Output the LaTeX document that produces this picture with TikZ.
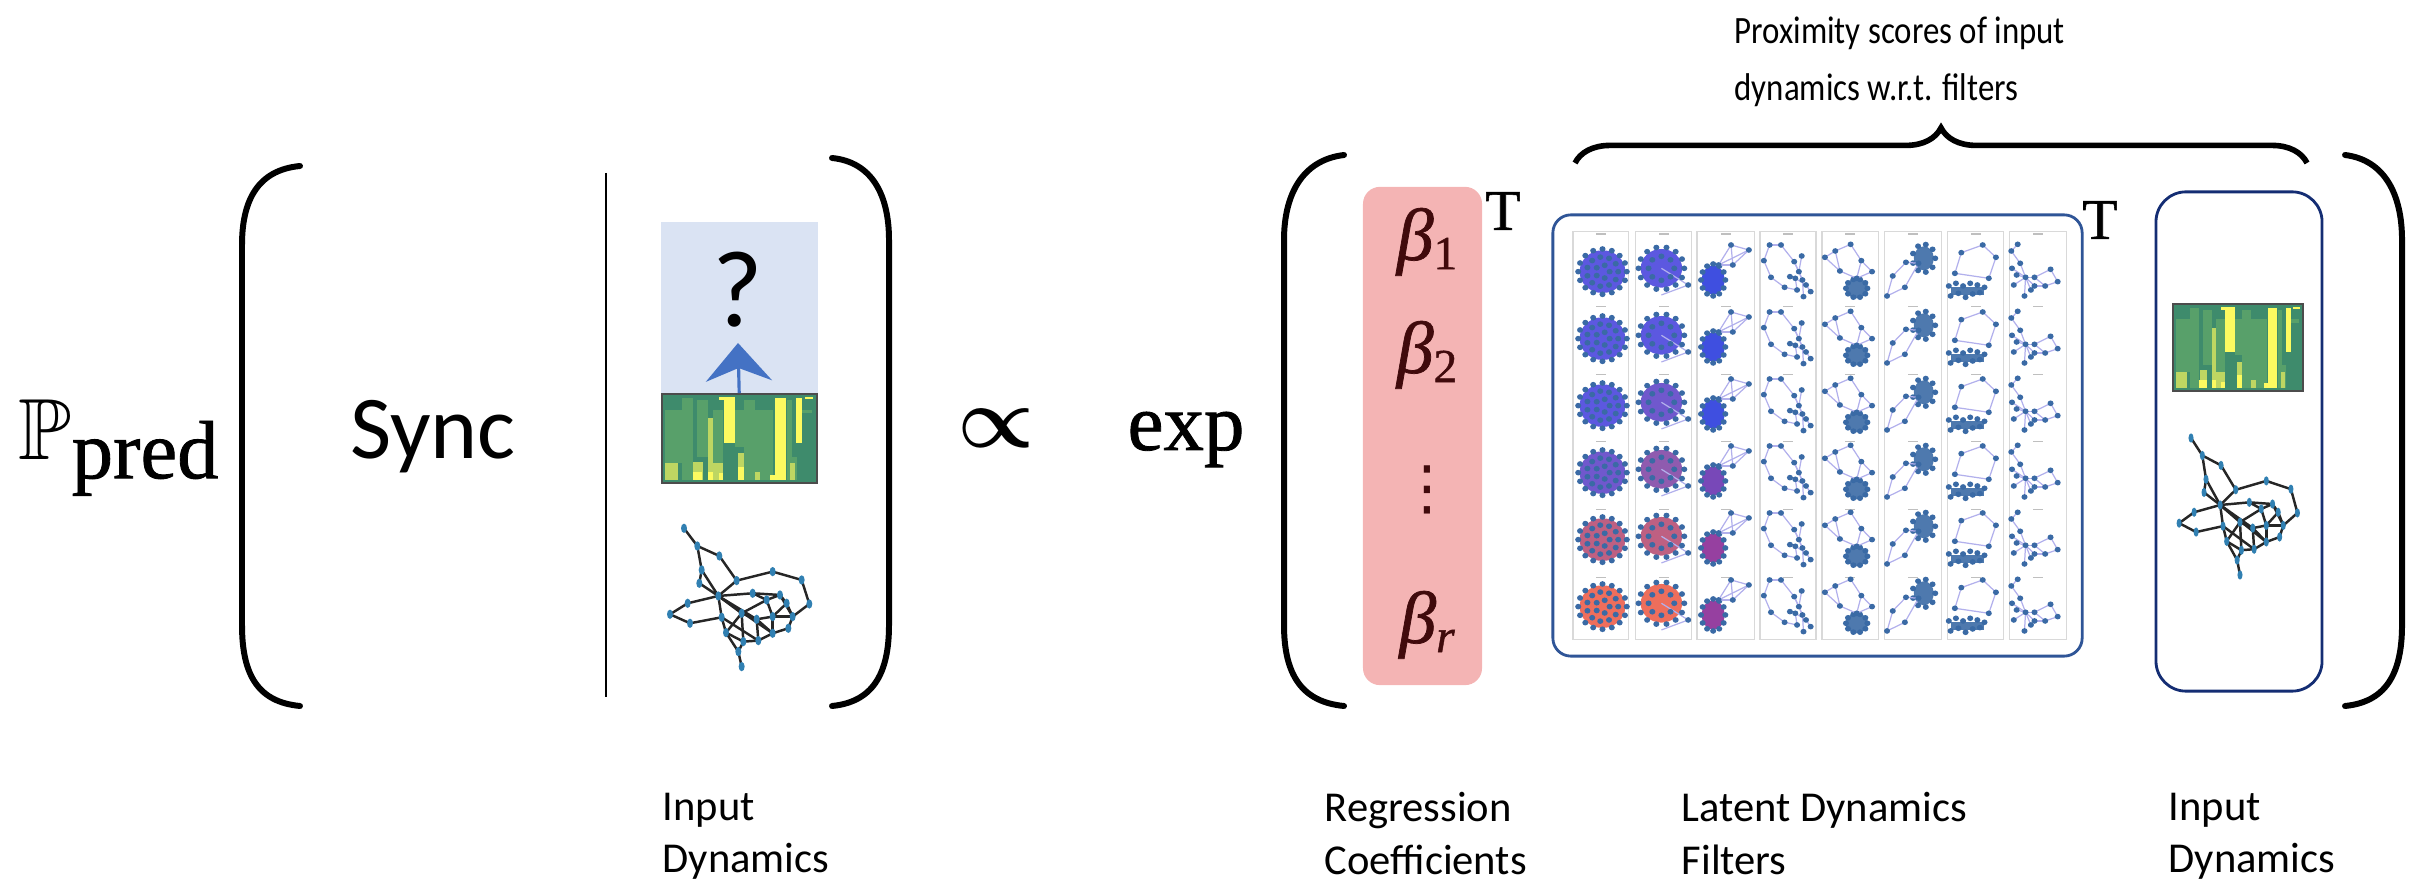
\documentclass[tikz,border=0pt]{standalone}
\usepackage{amsmath,amssymb}
\usepackage{fontspec}
\setmainfont{Carlito}
\newfontfamily\serifface[FakeBold=1]{Liberation Serif}
\newfontfamily\betaface[FakeBold=1]{Liberation Serif Italic}
\newfontfamily\symbface{DejaVu Sans}
\usetikzlibrary{arrows.meta,calc,decorations.pathreplacing}
\definecolor{querybg}{RGB}{218,227,243}
\definecolor{arrowblue}{RGB}{68,114,196}
\definecolor{coefred}{RGB}{244,180,180}
\definecolor{betared}{RGB}{64,10,12}
\definecolor{filterblue}{RGB}{47,85,151}
\definecolor{inputnavy}{RGB}{20,45,115}
\definecolor{heatdark}{RGB}{62,139,108}
\definecolor{heatmid}{RGB}{88,160,106}
\definecolor{heatlime}{RGB}{190,214,98}
\definecolor{heatyellow}{RGB}{252,250,96}
\definecolor{dotblue}{RGB}{58,106,165}
\definecolor{edgelav}{RGB}{178,176,236}
\definecolor{discblue}{RGB}{92,88,224}
\definecolor{discviolet}{RGB}{112,88,205}
\definecolor{discmauve}{RGB}{190,96,130}
\definecolor{discred}{RGB}{238,110,92}
\definecolor{knotblue}{RGB}{63,79,224}
\definecolor{knotviolet}{RGB}{120,72,184}
\definecolor{knotplum}{RGB}{150,64,160}
\tikzset{
    paren/.style={line width=1.7pt,line cap=round},
    heatrim/.style={draw=black!70,line width=0.6pt,inner sep=0pt},
    graphedge/.style={draw=black!85,line width=0.7pt},
    graphdot/.style={fill=dotblue!85!cyan,x radius=9,y radius=14},
    caption/.style={anchor=north west,align=left,inner sep=0pt,font=\fontsize{12.1}{14.8}\selectfont},
    filteredge/.style={draw=edgelav,line width=0.35pt},
    filterdot/.style={fill=dotblue,radius=8.5},
    panel/.style={draw=black!15,line width=0.4pt},
    bigT/.style={anchor=center,font=\serifface\fontsize{16.4}{20}\selectfont,inner sep=0pt},
    betatext/.style={text=betared,anchor=base,inner sep=0pt,font=\betaface\fontsize{21}{24}\selectfont},
}
% nodes as name/x/y, edges as name/name
\newcommand{\smallgraph}[2]{
    \foreach \nm/\px/\py in {#1} {\coordinate (g\nm) at (\px,\py);}
    \foreach \ea/\eb in {#2} {\path[graphedge] (g\ea) -- (g\eb);}
    \foreach \nm/\px/\py in {#1} {\fill[graphdot] (g\nm) circle;}
}
\newcommand{\ringdots}[5]{
    \foreach \k in {1,...,#5} {\fill[filterdot] ({#1+#3*cos(360*\k/#5)},{#2+#4*sin(360*\k/#5)}) circle;}
}
\newcommand{\betasub}[1]{\raisebox{-2.6pt}{\fontsize{13.5}{15}\selectfont #1}}
\newcommand{\heatcells}{
    \fill[heatdark] (125,583) rectangle (590,848);
    \foreach \xa/\ya/\xb/\yb in {135/630/185/790,185/595/218/840,232/600/265/770,280/630/310/790,345/630/390/740,372/600/405/840,405/630/460/840,500/600/515/840,515/770/530/840,545/630/575/640} {
        \fill[heatmid] (\xa,\ya) rectangle (\xb,\yb);
    }
    \foreach \xa/\ya/\xb/\yb in {135/790/175/840,220/785/248/840,265/655/280/840,280/790/310/840,405/815/420/840,510/790/525/840,355/760/372/840} {
        \fill[heatlime] (\xa,\ya) rectangle (\xb,\yb);
    }
    \foreach \xa/\ya/\xb/\yb in {312/592/345/730,298/592/345/600,465/595/497/840,450/825/497/840,528/595/545/730,218/815/245/840,265/815/280/840,355/800/372/840,298/820/310/840,555/592/580/598} {
        \fill[heatyellow] (\xa,\ya) rectangle (\xb,\yb);
    }
}
\newcommand{\dyngraph}{
    \smallgraph{a/192/985,b/232/1038,c/298/1068,d/245/1110,e/238/1150,f/350/1142,g/458/1115,h/545/1140,i/568/1212,j/295/1188,k/398/1180,l/480/1185,m/500/1210,n/440/1200,o/203/1210,p/150/1243,q/210/1270,r/305/1252,s/365/1240,t/410/1258,u/458/1250,v/518/1250,w/505/1285,x/458/1300,y/415/1322,z/318/1298,A/370/1325,B/355/1355,C/365/1400}
    {a/b,b/c,b/d,c/f,d/e,d/j,e/j,f/g,g/h,h/i,i/v,f/j,j/o,o/p,p/q,q/r,j/k,k/l,l/m,k/n,n/s,j/r,r/z,z/B,z/A,B/C,B/A,A/y,y/x,x/w,w/v,v/m,s/z,t/y,u/x,s/t,t/u,u/v,j/s,j/t,n/u,l/v,s/A,r/y,m/u,j/x,n/l,t/x}
}
\begin{document}
\begin{tikzpicture}[x=0.01cm,y=-0.01cm]
    \useasboundingbox (0,0) rectangle (2416,892);

    % Left side
    \node[anchor=base west,scale=2.47,inner sep=0pt] (predlabel) at (17,460) {$\mathbb{P}$\raisebox{-2.1pt}{\serifface\fontsize{9.5}{11}\selectfont pred}};
    \draw[paren] (300,166) .. controls (258,170) and (242,200) .. (242,245) -- (242,625) .. controls (242,675) and (258,702) .. (300,706);
    \node[anchor=base,font=\fontsize{25.5}{30}\selectfont,inner sep=0pt] (synclabel) at (433,459) {Sync};
    \coordinate (bartop) at (606,173);
    \coordinate (barbot) at (606,697);
    \draw[line width=0.6pt] (bartop) -- (barbot);

    % Queried entry above the heatmap
    \node[fill=querybg,inner sep=0pt,minimum width=1.56cm,minimum height=1.72cm] (querybox) at (739.5,308) {};
    \node[font=\fontsize{31}{36}\selectfont,inner sep=0pt] (querymark) at (738,290) {?};
    \begin{scope}[shift={(661.7,394.3)},scale=0.3333,shift={(-125,-583)}]
        \heatcells
    \end{scope}
    \node[heatrim,minimum width=1.55cm,minimum height=0.885cm] (heatleft) at (739.2,438.5) {};
    \coordinate (arrowtip) at (738,343);
    \draw[arrowblue,line width=0.9pt,-{Stealth[length=0.38cm,width=0.66cm,inset=0.13cm]}] (heatleft.north) -- (arrowtip);
    \begin{scope}[shift={(620,200)},scale=0.3333]
        \dyngraph
    \end{scope}
    \draw[paren] (832,158) .. controls (872,162) and (889,195) .. (889,240) -- (889,625) .. controls (889,675) and (872,702) .. (832,706);

    \node[scale=2.45] (proplabel) at (996,428) {{\boldmath$\propto$}};
    \node[anchor=base,font=\serifface\fontsize{23}{26}\selectfont,inner sep=0pt] (explabel) at (1186,450) {exp};

    % Regression coefficients
    \draw[paren] (1344,155) .. controls (1302,160) and (1284,195) .. (1284,240) -- (1284,625) .. controls (1284,675) and (1302,702) .. (1344,706);
    \node[fill=coefred,rounded corners=0.17cm,minimum width=1.19cm,minimum height=4.98cm,inner sep=0pt] (coefbox) at (1422.5,436) {};
    \node[betatext] (bone) at (1427,260) {β\betasub{\serifface 1}};
    \node[betatext] (btwo) at (1427,373) {β\betasub{\serifface 2}};
    \node[betatext] (bend) at (1427,643) {β\betasub{r}};
    \node[text=betared,font=\symbface\fontsize{17}{20}\selectfont,inner sep=0pt] (bdots) at (1427,490) {⋮};
    \node[bigT] (coefT) at (1503,211) {T};

    % Latent filters
    \node[draw=filterblue,line width=0.8pt,rounded corners=0.18cm,minimum width=5.29cm,minimum height=4.41cm,inner sep=0pt] (filterbox) at (1817.5,435.5) {};
    \node[bigT] (filterT) at (2100,220) {T};
    \begin{scope}[shift={(1540,200)},xscale=0.357,yscale=0.3333]
        \foreach \xa/\xb in {92/248,267/425,440/600,616/773,790/948,965/1125,1142/1298,1315/1475} {
            \draw[panel] (\xa,95) rectangle (\xb,1318);
            \foreach \ty in {100,318,522,723,927,1130} {
                \fill[black!25] ({(\xa+\xb)/2-14},\ty) rectangle ({(\xa+\xb)/2+14},\ty+4);
            }
        }
        \foreach \rw/\discA/\discB/\knot in {0/discblue/discblue/knotblue,1/discblue/discblue/knotblue,2/discblue/discviolet/knotblue,3/discviolet/discmauve!40!discviolet/knotviolet,4/discmauve/discmauve/knotplum,5/discred/discred/knotplum} {
            \begin{scope}[shift={(0,201*\rw)},graphedge/.style={filteredge},graphdot/.style={filterdot}]
                % dense filters
                \fill[\discA] (175,215) circle [radius=64];
                \ringdots{175}{215}{68}{68}{16}
                \ringdots{175}{215}{44}{44}{11}
                \ringdots{175}{215}{20}{20}{5}
                \fill[\discB] (340,205) circle [radius=58];
                \draw[filteredge] (340,205) -- (415,255) -- (340,285);
                \ringdots{340}{205}{64}{64}{14}
                \ringdots{340}{205}{36}{36}{8}
                \fill[filterdot] (415,255) circle;
                \fill[\knot] (485,240) ellipse [x radius=32,y radius=44];
                \ringdots{485}{240}{34}{48}{12}
                % sparse filters
                \smallgraph{a/535/135,b/585/150,c/540/195,d/500/195}{a/b,b/c,a/c,a/d,b/d,c/d}
                \smallgraph{a/643/135,b/675/135,c/627/182,d/712/185,e/733/168,f/647/232,g/685/262,h/700/230,i/725/215,j/735/240,k/715/235,l/745/255,m/758/275,n/738/290,o/720/270}{a/b,a/c,b/d,c/f,f/g,d/i,e/i,i/j,g/o,h/k,k/l,l/m,j/n,k/o,d/j}
                \fill[dotblue!90!white] (887,265) ellipse [x radius=32,y radius=30];
                \ringdots{887}{265}{30}{28}{10}
                \smallgraph{a/870/133,b/827/153,c/798/172,d/900/182,e/930/215,f/840/213,g/887/235}{a/b,b/c,a/d,d/e,c/f,b/f,f/g,d/g,e/g}
                \fill[dotblue!90!white] (1075,175) ellipse [x radius=28,y radius=36];
                \ringdots{1075}{175}{32}{42}{9}
                \smallgraph{a/1025/187,b/988/228,c/1022/262,d/972/288,e/1060/190}{a/b,c/d,b/d,a/e,c/e}
                \fill[dotblue!90!white] (1150,262) rectangle (1245,285);
                \foreach \px/\py in {1145/258,1165/250,1185/258,1205/250,1225/255,1245/262,1150/288,1172/280,1192/292,1212/282,1232/278} {\fill[filterdot] (\px,\py) circle;}
                \smallgraph{a/1240/135,b/1180/158,c/1277/172,d/1162/220,e/1257/235}{a/b,a/c,b/d,c/e,d/e}
                \smallgraph{a/1338/133,b/1320/153,c/1345/190,d/1322/205,e/1360/232,f/1430/208,g/1450/245,h/1415/258,i/1385/258,j/1327/255,k/1357/288,l/1335/225,m/1375/270,n/1385/232}{a/b,b/c,c/e,d/e,e/n,n/f,f/g,g/h,h/i,i/e,e/j,e/k,l/e,m/e,n/h}
            \end{scope}
        }
    \end{scope}

    % Input dynamics on the right
    \node[draw=inputnavy,line width=0.8pt,rounded corners=0.3cm,minimum width=1.66cm,minimum height=4.99cm,inner sep=0pt] (inputbox) at (2239,441.5) {};
    \begin{scope}[shift={(2173,304)},xscale=0.28,yscale=0.3275,shift={(-125,-583)}]
        \heatcells
    \end{scope}
    \node[heatrim,minimum width=1.30cm,minimum height=0.87cm] (heatright) at (2238,347.5) {};
    \begin{scope}[shift={(2191,438)},xscale=0.283,yscale=0.33,shift={(-192,-985)}]
        \dyngraph
    \end{scope}
    \draw[paren] (2345,155) .. controls (2385,160) and (2402,195) .. (2402,240) -- (2402,625) .. controls (2402,675) and (2385,702) .. (2345,706);

    % Top brace
    \coordinate (bracea) at (1575,163);
    \coordinate (braceb) at (2307,163);
    \draw[line width=1.6pt,decorate,decoration={brace,amplitude=10pt}] (bracea) -- (braceb);
    \node[caption,font=\fontsize{11}{16.3}\selectfont,xscale=0.85] (scorelabel) at (1734,16) {Proximity scores of input\\dynamics w.r.t. filters};

    % Captions
    \node[caption] (capinput) at (662,792) {Input\\Dynamics};
    \node[caption] (capcoef) at (1324,792) {Regression\\Coefficients};
    \node[caption] (capfilter) at (1681,792) {Latent Dynamics\\Filters};
    \node[caption] (capright) at (2168,792) {Input\\Dynamics};
\end{tikzpicture}
\end{document}
